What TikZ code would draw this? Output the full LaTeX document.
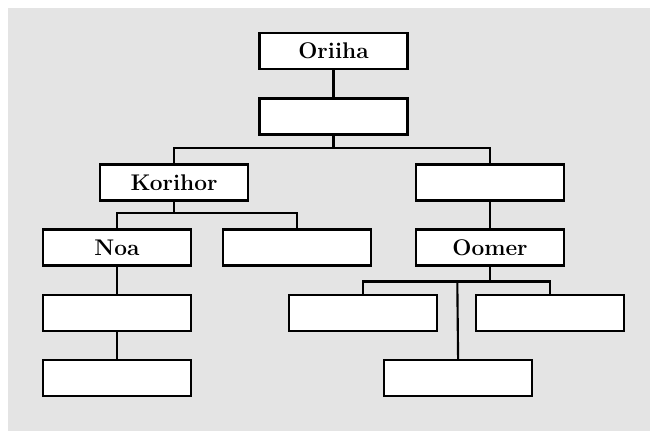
\documentclass[tikz,border=0pt]{standalone}
\definecolor{bggray}{HTML}{E4E4E4}

\begin{document}
\begin{tikzpicture}[ x=0.75pt, y=-0.75pt, line width=1.6pt,
  person/.style={draw, fill=white, minimum width=111pt, minimum height=27pt, inner sep=0pt, font=\fontsize{17}{20}\selectfont\bfseries} ]

\useasboundingbox (0,0) rectangle (650,431);
\fill[bggray] (8,8) rectangle (650,431);

\node[person] (oriiha) at (333.5,51) {Oriiha};
\node[person] (son) at (333.5,116.5) {};

\node[person] (korihor) at (174,182.5) {Korihor};
\node[person] (rson) at (490,182.5) {};

\node[person] (noa) at (117,247.5) {Noa};
\node[person] (kson) at (296.7,247.5) {};
\node[person] (oomer) at (490,247.5) {Oomer};

\node[person] (noa1) at (117,313.3) {};
\node[person] (noa2) at (117,378) {};

\node[person] (oom1) at (363.3,313.3) {};
\node[person] (oom2) at (550,313.3) {};
\node[person] (oom3) at (458.3,378) {};

\coordinate (j1) at (333.5,148);
\coordinate (j2) at (174,213);
\coordinate (j3) at (490,281.5);
\coordinate (j4) at (457.3,281.5);

\draw (oriiha) -- (son);
\draw (son) -- (j1);
\draw (korihor.north) |- (j1) -| (rson.north);
\draw (rson) -- (oomer);

\draw (korihor) -- (j2);
\draw (noa.north) |- (j2) -| (kson.north);
\draw (noa) -- (noa1);
\draw (noa1) -- (noa2);

\draw (oomer) -- (j3);
\draw (oom1.north) |- (j3) -| (oom2.north);
\draw (j4) -- (oom3);

\end{tikzpicture}
\end{document}
